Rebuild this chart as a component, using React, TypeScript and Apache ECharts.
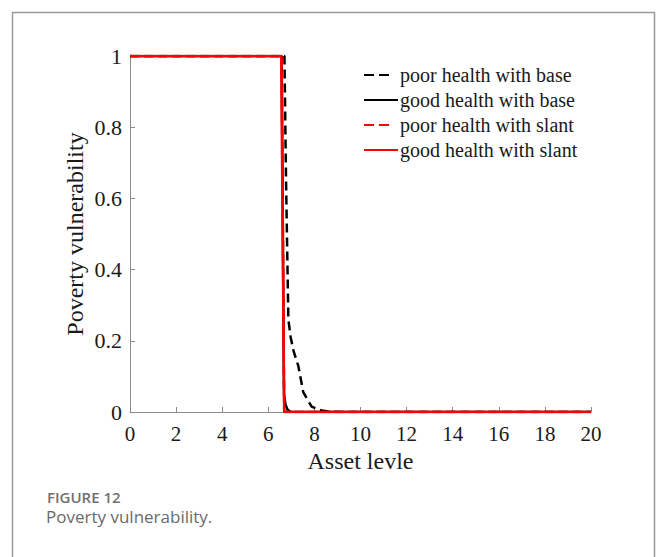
import React, { useEffect, useRef } from "react";
import * as echarts from "echarts";

// Asset level grid for each curve, with the matching vulnerability values
const poorBaseX = [0, 6.7, 6.77, 6.87, 6.97, 7.1, 7.3, 7.52, 7.88, 8.32, 8.7, 9.5, 20];
const poorBaseY = [1, 1, 0.65, 0.26, 0.21, 0.17, 0.13, 0.055, 0.015, 0.004, 0.001, 0, 0];

const goodBaseX = [0, 6.58, 6.68, 6.75, 6.85, 7.0, 20];
const goodBaseY = [1, 1, 0.05, 0.02, 0.005, 0, 0];

const poorSlantX = [0, 6.58, 6.69, 20];
const poorSlantY = [1, 1, 0, 0];

const goodSlantX = [0, 6.56, 6.69, 20];
const goodSlantY = [1, 1, 0, 0];

const seriesNames = [
  "poor health with base",
  "good health with base",
  "poor health with slant",
  "good health with slant",
];

const xTicks = { min: 0, max: 20, interval: 2 };
const yTicks = { min: 0, max: 1, interval: 0.2 };

const zip = (xs: number[], ys: number[]) => xs.map((x, i) => [x, ys[i]]);

const SERIF = "'Liberation Serif', 'Times New Roman', serif";
const SANS = "'Open Sans', Lato, sans-serif";

export default function App() {
  const ref = useRef<HTMLDivElement>(null);

  useEffect(() => {
    if (!ref.current) return;
    const chart = echarts.init(ref.current, undefined, { renderer: "svg" });

    const axisLineColor = "#8c8c8c";
    const textColor = "#1a1a1a";

    const mkSeries = (
      name: string,
      xs: number[],
      ys: number[],
      color: string,
      dashed: boolean
    ) => ({
      name,
      type: "line",
      data: zip(xs, ys),
      showSymbol: false,
      symbol: "none",
      lineStyle: {
        color,
        width: 2.5,
        type: dashed ? [9, 5] : "solid",
      },
      itemStyle: { color },
    });

    // two short dashes for the dashed legend keys
    const legendDash = [10, 5, 10, 100];

    chart.setOption({
      animation: false,
      backgroundColor: "#ffffff",
      grid: { left: 130, top: 56, width: 461, height: 356 },
      legend: {
        left: 363,
        top: 65,
        padding: 0,
        orient: "vertical",
        itemWidth: 34,
        itemHeight: 14,
        itemGap: 5,
        itemStyle: { opacity: 0 },
        textStyle: {
          fontFamily: SERIF,
          fontSize: 20,
          color: textColor,
          padding: [0, 0, 0, -3],
        },
        data: [
          { name: seriesNames[0], lineStyle: { type: legendDash } },
          { name: seriesNames[1] },
          { name: seriesNames[2], lineStyle: { type: legendDash } },
          { name: seriesNames[3] },
        ],
      },
      xAxis: {
        type: "value",
        min: xTicks.min,
        max: xTicks.max,
        interval: xTicks.interval,
        name: "Asset levle",
        nameLocation: "middle",
        nameGap: 33,
        nameTextStyle: { fontFamily: SERIF, fontSize: 24, color: textColor },
        axisLine: { show: true, lineStyle: { color: axisLineColor, width: 1 } },
        axisTick: { show: true, inside: true, length: 5, lineStyle: { color: axisLineColor } },
        axisLabel: { fontFamily: SERIF, fontSize: 21, color: textColor, margin: 11 },
        splitLine: { show: false },
      },
      yAxis: {
        type: "value",
        min: yTicks.min,
        max: yTicks.max,
        interval: yTicks.interval,
        name: "Poverty vulnerability",
        nameLocation: "middle",
        nameGap: 43,
        nameMoveOverlap: false,
        nameTextStyle: { fontFamily: SERIF, fontSize: 24, color: textColor },
        axisLine: { show: true, lineStyle: { color: axisLineColor, width: 1 } },
        axisTick: { show: true, inside: true, length: 5, lineStyle: { color: axisLineColor } },
        axisLabel: { fontFamily: SERIF, fontSize: 22, color: textColor, margin: 8 },
        splitLine: { show: false },
      },
      series: [
        mkSeries(seriesNames[0], poorBaseX, poorBaseY, "#000000", true),
        mkSeries(seriesNames[1], goodBaseX, goodBaseY, "#000000", false),
        mkSeries(seriesNames[2], poorSlantX, poorSlantY, "#ff0000", true),
        mkSeries(seriesNames[3], goodSlantX, goodSlantY, "#ff0000", false),
      ],
      graphic: [
        {
          type: "rect",
          silent: true,
          shape: { x: 12.5, y: 12.5, width: 642, height: 620 },
          style: { fill: "none", stroke: "#9a9a9a", lineWidth: 1.5 },
        },
        {
          type: "text",
          left: 47,
          top: 489,
          style: {
            text: "FIGURE 12",
            fontFamily: SANS,
            fontSize: 15,
            lineHeight: 15,
            fontWeight: 600,
            fill: "#707070",
          },
        },
        {
          type: "text",
          left: 46,
          top: 508,
          style: {
            text: "Poverty vulnerability.",
            fontFamily: SANS,
            fontSize: 17,
            lineHeight: 17,
            fill: "#6a6a6a",
          },
        },
      ],
    });

    return () => chart.dispose();
  }, []);

  return (
    <div
      ref={ref}
      style={{ position: "fixed", left: 0, top: 0, width: 656, height: 557 }}
    />
  );
}
